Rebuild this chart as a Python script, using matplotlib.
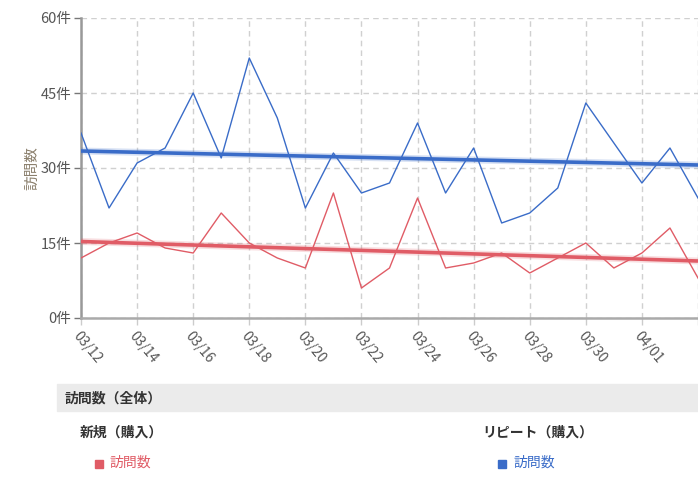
import numpy as np
import matplotlib.pyplot as plt
from matplotlib.patches import Rectangle

plt.rcParams['font.family'] = ['Noto Sans CJK JP', 'DejaVu Sans']

# Data (daily visits)
dates = ['03/12', '03/13', '03/14', '03/15', '03/16', '03/17', '03/18', '03/19',
         '03/20', '03/21', '03/22', '03/23', '03/24', '03/25', '03/26', '03/27',
         '03/28', '03/29', '03/30', '03/31', '04/01', '04/02', '04/03']
new_visits = [12, 15, 17, 14, 13, 21, 15, 12, 10, 25, 6, 10, 24, 10, 11, 13,
              9, 12, 15, 10, 13, 18, 8]
repeat_visits = [37, 22, 31, 34, 45, 32, 52, 40, 22, 33, 25, 27, 39, 25, 34, 19,
                 21, 26, 43, 35, 27, 34, 24]
# trend line values at the first and last visible day
new_trend = [15.3, 11.4]
repeat_trend = [33.4, 30.6]
y_ticks = [0, 15, 30, 45, 60]

red = '#e05c66'
blue = '#3a6cc8'

x = np.arange(len(dates))

fig = plt.figure(figsize=(6.98, 5.04), dpi=100)
ax = fig.add_axes([81 / 698, 1 - 318 / 504, 617 / 698, 300 / 504])

# Raw series
ax.plot(x, new_visits, color=red, lw=1.0, zorder=3)
ax.plot(x, repeat_visits, color=blue, lw=1.0, zorder=3)

# Trend lines
tx = [x[0], x[-1]]
for tr, c in [(new_trend, red), (repeat_trend, blue)]:
    ax.plot(tx, tr, color=c, lw=5, alpha=0.2, zorder=4, solid_capstyle='butt')
    ax.plot(tx, tr, color=c, lw=2.6, zorder=5, solid_capstyle='butt')

ax.set_xlim(0, len(dates) - 1)
ax.set_ylim(0, 60)
ax.set_yticks(y_ticks)
ax.set_yticklabels([f'{v}件' for v in y_ticks])
ax.set_xticks(x[::2])
# the last label falls outside the figure in the original
xlabels = [d if i < len(x[::2]) - 1 else '' for i, d in enumerate(dates[::2])]
ax.set_xticklabels(xlabels, rotation=-50, ha='left', va='top',
                   rotation_mode='anchor')

ax.grid(True, color='#d0d0d0', linestyle=(0, (4, 3)), lw=1.0)
ax.set_axisbelow(True)
for s in ['top', 'right']:
    ax.spines[s].set_visible(False)
ax.spines['left'].set_color('#999999')
ax.spines['left'].set_linewidth(1.8)
ax.spines['bottom'].set_color('#aaaaaa')
ax.spines['bottom'].set_linewidth(1.8)
ax.tick_params(axis='y', colors='#555555', labelsize=10.5, length=5, width=1,
               color='#777777', pad=2)
ax.tick_params(axis='x', colors='#555555', labelsize=10, length=5, width=1,
               color='#cccccc', pad=3)
ax.set_ylabel('訪問数', color='#8a7f6c', fontsize=10.5)
ax.yaxis.set_label_coords(-42 / 617, 0.5)

# Legend panel below the chart
fig.patches.append(Rectangle((57 / 698, 1 - 411 / 504), 641 / 698, 27 / 504,
                             transform=fig.transFigure, color='#ebebeb', zorder=0))
fig.text(65 / 698, 1 - 398 / 504, '訪問数（全体）', fontsize=10, fontweight='bold',
         color='#333333', va='center')
fig.text(80 / 698, 1 - 433 / 504, '新規（購入）', fontsize=10, fontweight='bold',
         color='#333333', va='center')
fig.text(482 / 698, 1 - 433 / 504, 'リピート（購入）', fontsize=10, fontweight='bold',
         color='#333333', va='center')

fig.patches.append(Rectangle((95 / 698, 1 - 468 / 504), 8 / 698, 8 / 504,
                             transform=fig.transFigure, color=red))
fig.text(110 / 698, 1 - 463 / 504, '訪問数', fontsize=10, color=red, va='center')
fig.patches.append(Rectangle((498 / 698, 1 - 468 / 504), 8 / 698, 8 / 504,
                             transform=fig.transFigure, color=blue))
fig.text(513 / 698, 1 - 463 / 504, '訪問数', fontsize=10, color=blue, va='center')

fig.savefig('out.png', dpi=100)
